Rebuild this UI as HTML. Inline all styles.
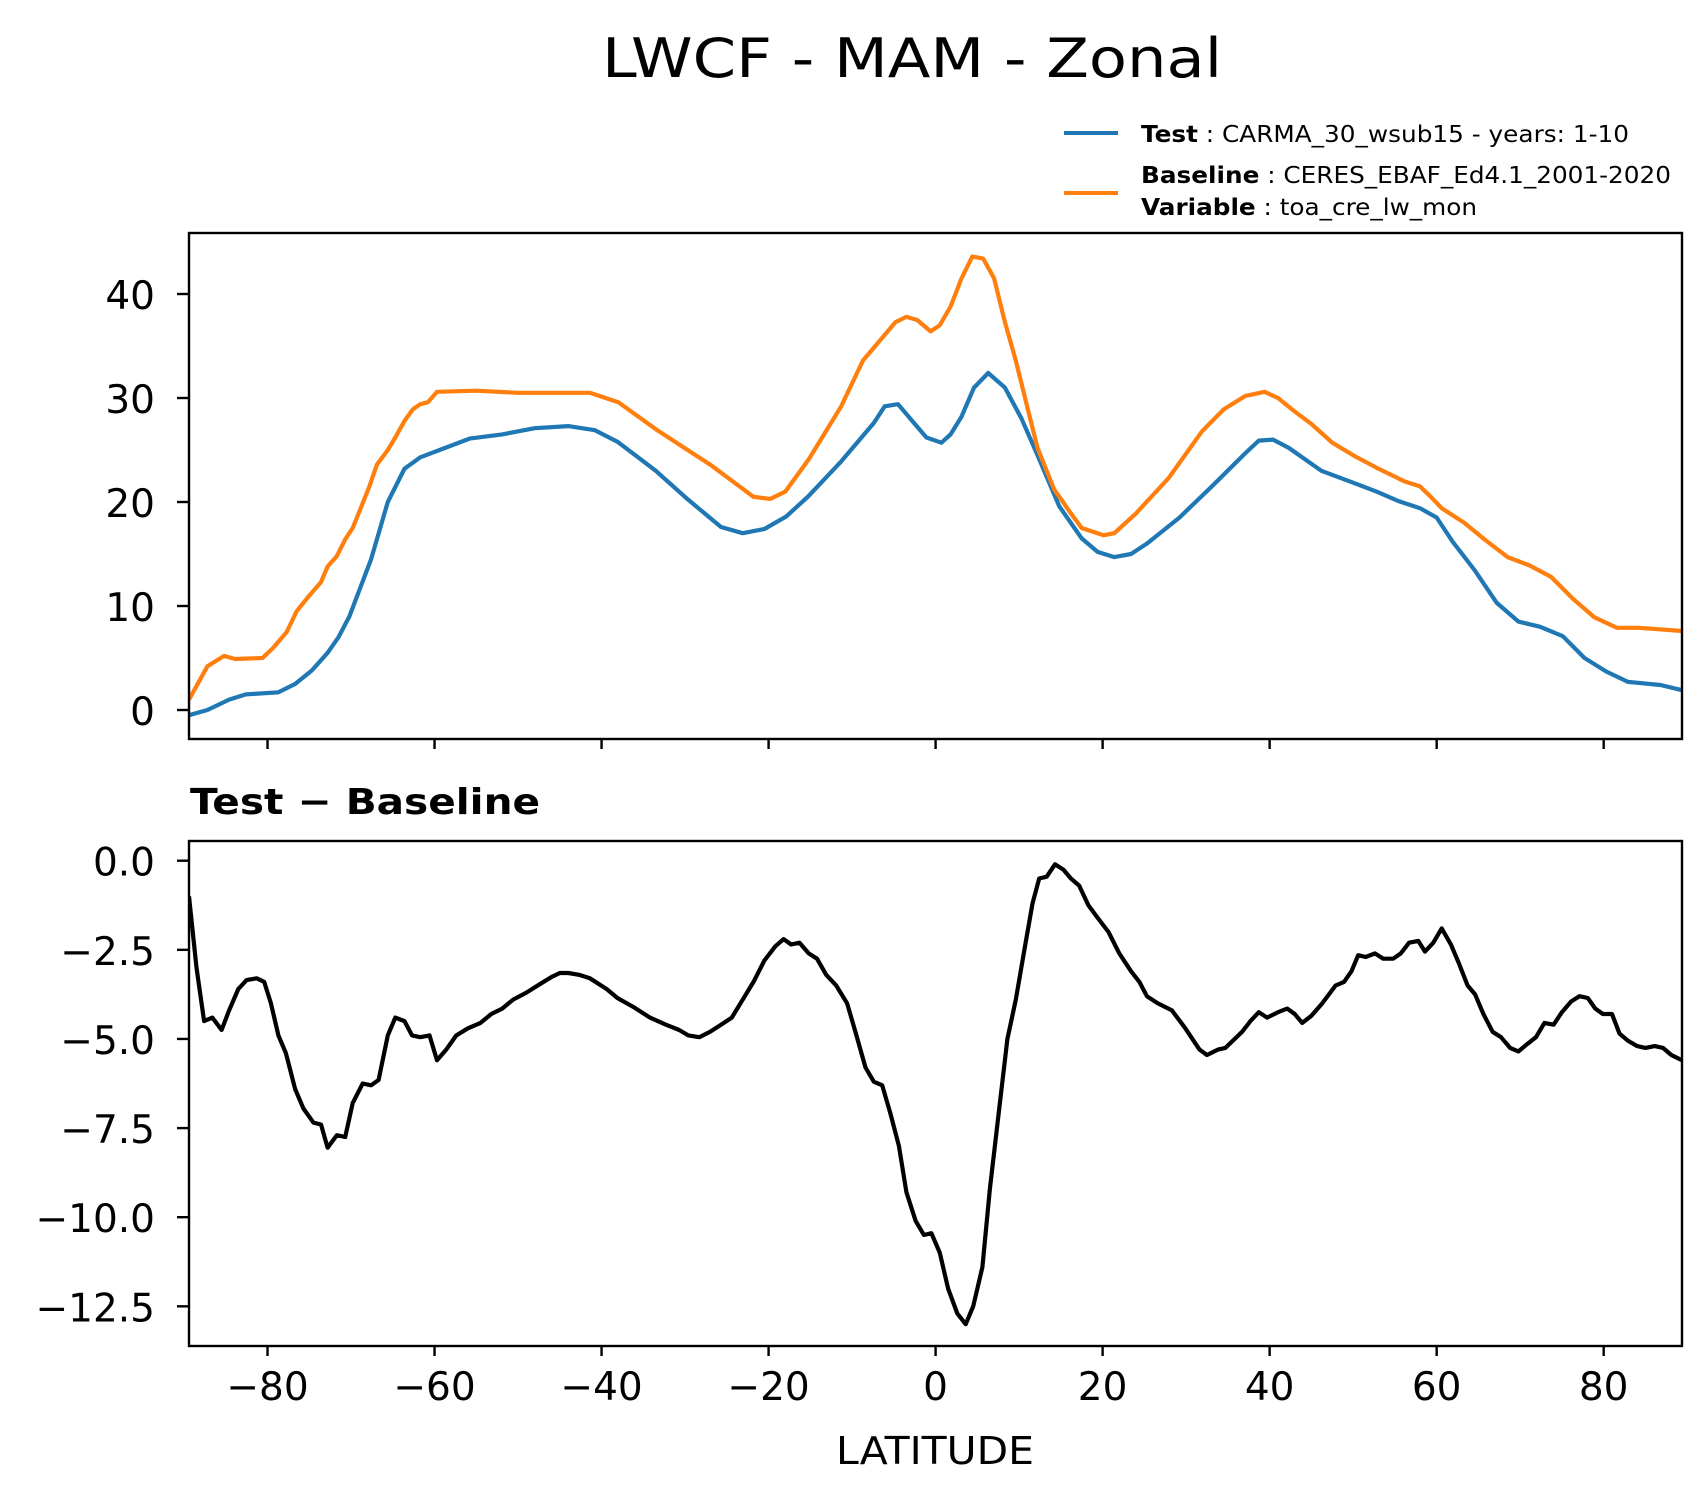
<!DOCTYPE html>
<html><head><meta charset="utf-8"><style>
html,body{margin:0;padding:0;background:#fff;}
svg{display:block;font-family:"DejaVu Sans","Liberation Sans",sans-serif;}
</style></head><body>
<svg id="fig" width="1704" height="1496" viewBox="0 0 1704 1496" xmlns="http://www.w3.org/2000/svg">
<rect width="1704" height="1496" fill="#fff"/>
<text x="912" y="77" font-size="54" text-anchor="middle" textLength="620" lengthAdjust="spacingAndGlyphs">LWCF - MAM - Zonal</text>
<g>
<line x1="1064" y1="133" x2="1118" y2="133" stroke="#1f77b4" stroke-width="4"/>
<line x1="1064" y1="193" x2="1118" y2="193" stroke="#ff7f0e" stroke-width="4"/>
<text x="1141" y="142" font-size="23" textLength="488" lengthAdjust="spacingAndGlyphs"><tspan font-weight="bold">Test</tspan> : CARMA_30_wsub15 - years: 1-10</text>
<text x="1141" y="183" font-size="23" textLength="530" lengthAdjust="spacingAndGlyphs"><tspan font-weight="bold">Baseline</tspan> : CERES_EBAF_Ed4.1_2001-2020</text>
<text x="1141" y="215" font-size="23" textLength="336" lengthAdjust="spacingAndGlyphs"><tspan font-weight="bold">Variable</tspan> : toa_cre_lw_mon</text>
</g>
<text x="190" y="814" font-size="36" font-weight="bold" textLength="350" lengthAdjust="spacingAndGlyphs">Test − Baseline</text>
<text x="935" y="1464" font-size="38" text-anchor="middle" textLength="198" lengthAdjust="spacingAndGlyphs">LATITUDE</text>
<g id="top"></g>
<g id="bot"></g>
</svg>
<script>
const testLat=[-89.4,-87.2,-84.6,-82.6,-78.7,-76.7,-74.7,-72.8,-71.5,-70.2,-67.6,-65.6,-63.6,-61.7,-55.8,-51.9,-48,-44,-40.8,-38.1,-33.5,-29.6,-25.7,-23.1,-20.5,-17.9,-15.3,-11.3,-7.4,-6.1,-4.5,-2.8,-1.1,0.7,1.8,3.1,4.6,6.3,8.3,10.3,12.2,14.8,17.5,19.4,21.4,23.4,25.3,29.2,33.2,37.1,38.7,40.4,42.3,46.2,50.2,52.8,55.4,58,60,61.9,64.5,67.2,69.8,72.4,75.1,77.7,80.3,82.9,86.8,89.4];
const testVal=[-0.5,0,1.0,1.5,1.7,2.5,3.8,5.5,7,9,14.5,20,23.2,24.3,26.1,26.5,27.1,27.3,26.9,25.8,23.0,20.2,17.6,17.0,17.4,18.6,20.5,23.9,27.6,29.2,29.4,27.8,26.2,25.7,26.5,28.2,31.0,32.4,31.0,28.0,24.5,19.6,16.5,15.2,14.7,15.0,16.0,18.5,21.6,24.7,25.9,26.0,25.2,23.0,21.8,21.0,20.1,19.4,18.5,16.2,13.5,10.3,8.5,8.0,7.1,5.0,3.7,2.7,2.4,1.9];
const baseLat=[-89.4,-87.2,-85.2,-83.9,-80.6,-79.3,-77.7,-76.5,-75,-73.6,-72.8,-71.7,-70.7,-69.8,-68.8,-67.8,-66.9,-65.6,-64.7,-63.6,-62.6,-61.7,-60.8,-59.7,-55,-50,-45,-41.4,-38,-33.5,-27,-21.8,-19.8,-18,-15.2,-11.3,-8.7,-4.8,-3.5,-2.2,-0.6,0.5,1.8,3.1,4.4,5.7,7,8.3,9.6,10.9,12.2,14.2,16.2,17.5,20.1,21.4,24,27.9,31.9,34.5,37.1,39.4,41,43,45,47.5,50.2,52.8,56.1,58,59.3,60.6,63.3,65.9,68.5,71.1,73.7,76.3,78.9,81.6,84.2,89.4];
const baseVal=[1.0,4.2,5.2,4.9,5.0,6.0,7.5,9.5,11.0,12.3,13.8,14.8,16.4,17.5,19.5,21.5,23.6,25.0,26.2,27.8,28.9,29.4,29.6,30.6,30.7,30.5,30.5,30.5,29.6,27.0,23.6,20.5,20.3,21.0,24.1,29.2,33.6,37.3,37.8,37.5,36.4,37.0,38.8,41.5,43.6,43.4,41.5,37.3,33.6,29.4,25.2,21.2,18.9,17.5,16.8,17.0,18.9,22.3,26.8,28.9,30.2,30.6,30.0,28.7,27.5,25.7,24.4,23.3,22.0,21.5,20.5,19.4,18.0,16.3,14.7,13.9,12.8,10.7,8.9,7.9,7.9,7.6];
const diffLat=[-89.4,-88.5,-87.6,-86.6,-85.5,-84.6,-83.5,-82.5,-81.3,-80.4,-79.6,-78.7,-77.8,-76.7,-75.7,-74.5,-73.6,-72.8,-71.7,-70.7,-69.8,-68.6,-67.6,-66.7,-65.6,-64.7,-63.6,-62.7,-61.7,-60.6,-59.7,-58.6,-57.4,-56,-54.5,-53.2,-51.9,-50.6,-49,-47.3,-45.9,-45,-44,-42.7,-41.4,-39.4,-38.1,-36.2,-34.2,-32.3,-30.7,-29.6,-28.3,-27,-25.7,-24.4,-23.1,-21.8,-20.5,-19.2,-18.2,-17.3,-16.3,-15.2,-14.2,-13.1,-11.9,-10.6,-9.6,-8.4,-7.4,-6.4,-5.4,-4.4,-3.5,-2.4,-1.4,-0.5,0.5,1.5,2.6,3.6,4.5,5.6,6.5,7.5,8.6,9.6,10.7,11.6,12.4,13.3,14.3,15.3,16.2,17.2,18.3,19.4,20.7,22,23.4,24.4,25.3,26.6,28.3,29.9,31.6,32.5,33.8,34.7,35.8,36.7,37.7,38.7,39.7,41,42.1,43,43.9,45,46.3,47.9,48.9,49.8,50.6,51.5,52.6,53.6,54.8,55.7,56.7,57.8,58.6,59.6,60.6,61.7,62.7,63.7,64.6,65.6,66.7,67.7,68.8,69.8,70.8,71.9,72.9,74,75,76.1,77.1,78.1,79,79.9,81,81.9,82.9,84,85,86.1,87.1,88.1,89.4];
const diffVal=[-1.0,-3.0,-4.5,-4.4,-4.75,-4.2,-3.6,-3.35,-3.3,-3.4,-4.0,-4.9,-5.4,-6.4,-6.95,-7.35,-7.4,-8.05,-7.7,-7.75,-6.8,-6.25,-6.3,-6.15,-4.9,-4.4,-4.5,-4.9,-4.95,-4.9,-5.6,-5.3,-4.9,-4.7,-4.55,-4.3,-4.15,-3.9,-3.7,-3.45,-3.25,-3.15,-3.15,-3.2,-3.3,-3.6,-3.85,-4.1,-4.4,-4.6,-4.75,-4.9,-4.95,-4.8,-4.6,-4.4,-3.9,-3.4,-2.8,-2.4,-2.2,-2.35,-2.3,-2.6,-2.75,-3.2,-3.5,-4.0,-4.8,-5.8,-6.2,-6.3,-7.1,-8.0,-9.3,-10.1,-10.5,-10.45,-11.0,-12.0,-12.7,-13.0,-12.5,-11.4,-9.2,-7.2,-5.0,-3.9,-2.4,-1.2,-0.5,-0.45,-0.1,-0.25,-0.5,-0.7,-1.25,-1.6,-2.0,-2.6,-3.1,-3.4,-3.8,-4.0,-4.2,-4.7,-5.3,-5.45,-5.3,-5.25,-5.0,-4.8,-4.5,-4.25,-4.4,-4.25,-4.15,-4.3,-4.55,-4.35,-4.0,-3.5,-3.4,-3.1,-2.65,-2.7,-2.6,-2.75,-2.75,-2.6,-2.3,-2.25,-2.55,-2.3,-1.9,-2.35,-2.9,-3.5,-3.75,-4.3,-4.8,-4.95,-5.25,-5.35,-5.15,-4.95,-4.55,-4.6,-4.25,-3.95,-3.8,-3.85,-4.15,-4.3,-4.3,-4.85,-5.05,-5.2,-5.25,-5.2,-5.25,-5.45,-5.6];
const xTicks=[-80,-60,-40,-20,0,20,40,60,80];
const topTicks=[0,10,20,30,40];
const botTicks=[0,-2.5,-5,-7.5,-10,-12.5];
const botTickLabels=["0.0","−2.5","−5.0","−7.5","−10.0","−12.5"];

const NS="http://www.w3.org/2000/svg";
const L=189,R=1682;
function X(lat){return 935.6+lat*8.351;}
function Yt(v){return 710-v*10.40;}
function Yb(v){return 860.7-v*35.65;}
function mk(tag,attrs,parent){const e=document.createElementNS(NS,tag);for(const k in attrs)e.setAttribute(k,attrs[k]);parent.appendChild(e);return e;}
function line(xs,ys,fx,fy,color,parent,name){
  let d="";for(let i=0;i<xs.length;i++)d+=(i?"L":"M")+fx(xs[i]).toFixed(1)+","+fy(ys[i]).toFixed(1);
  const p=mk("path",{d:d,fill:"none",stroke:color,"stroke-width":4.2,"stroke-linejoin":"round"},parent);
  
  
}
function panel(g,top,bot,yTicks,yLabels,fy,showX,name){
  const clip=mk("clipPath",{id:"c"+name},g);
  mk("rect",{x:L,y:top,width:R-L,height:bot-top},clip);
  const plot=mk("g",{"clip-path":"url(#c"+name+")"},g);
  for(const t of xTicks){
    const tk=mk("line",{x1:X(t),x2:X(t),y1:bot,y2:bot+10,stroke:"#000","stroke-width":2.4},g);
    
    
    if(showX){
      const tx=mk("text",{x:X(t),y:1400,"font-size":39,"text-anchor":"middle"},g);
      tx.textContent=t<0?"−"+(-t):String(t);
      
      
    }
  }
  yTicks.forEach((t,i)=>{
    const tk=mk("line",{x1:L-12,x2:L,y1:fy(t),y2:fy(t),stroke:"#000","stroke-width":2.4},g);
    
    
    const tx=mk("text",{x:L-34,y:fy(t)+15,"font-size":39,"text-anchor":"end"},g);
    tx.textContent=yLabels[i];
    
    
  });
  const fr=mk("rect",{x:L,y:top,width:R-L,height:bot-top,fill:"none",stroke:"#000","stroke-width":2.4},g);
  
  
  return plot;
}
const tp=panel(document.getElementById("top"),233,739,topTicks,topTicks.map(String),Yt,false,"top-panel");
line(testLat,testVal,X,Yt,"#1f77b4",tp,"test-line");
line(baseLat,baseVal,X,Yt,"#ff7f0e",tp,"baseline-line");
const bp=panel(document.getElementById("bot"),841,1346,botTicks,botTickLabels,Yb,true,"diff-panel");
line(diffLat,diffVal,X,Yb,"#000",bp,"difference-line");
</script>
</body></html>
